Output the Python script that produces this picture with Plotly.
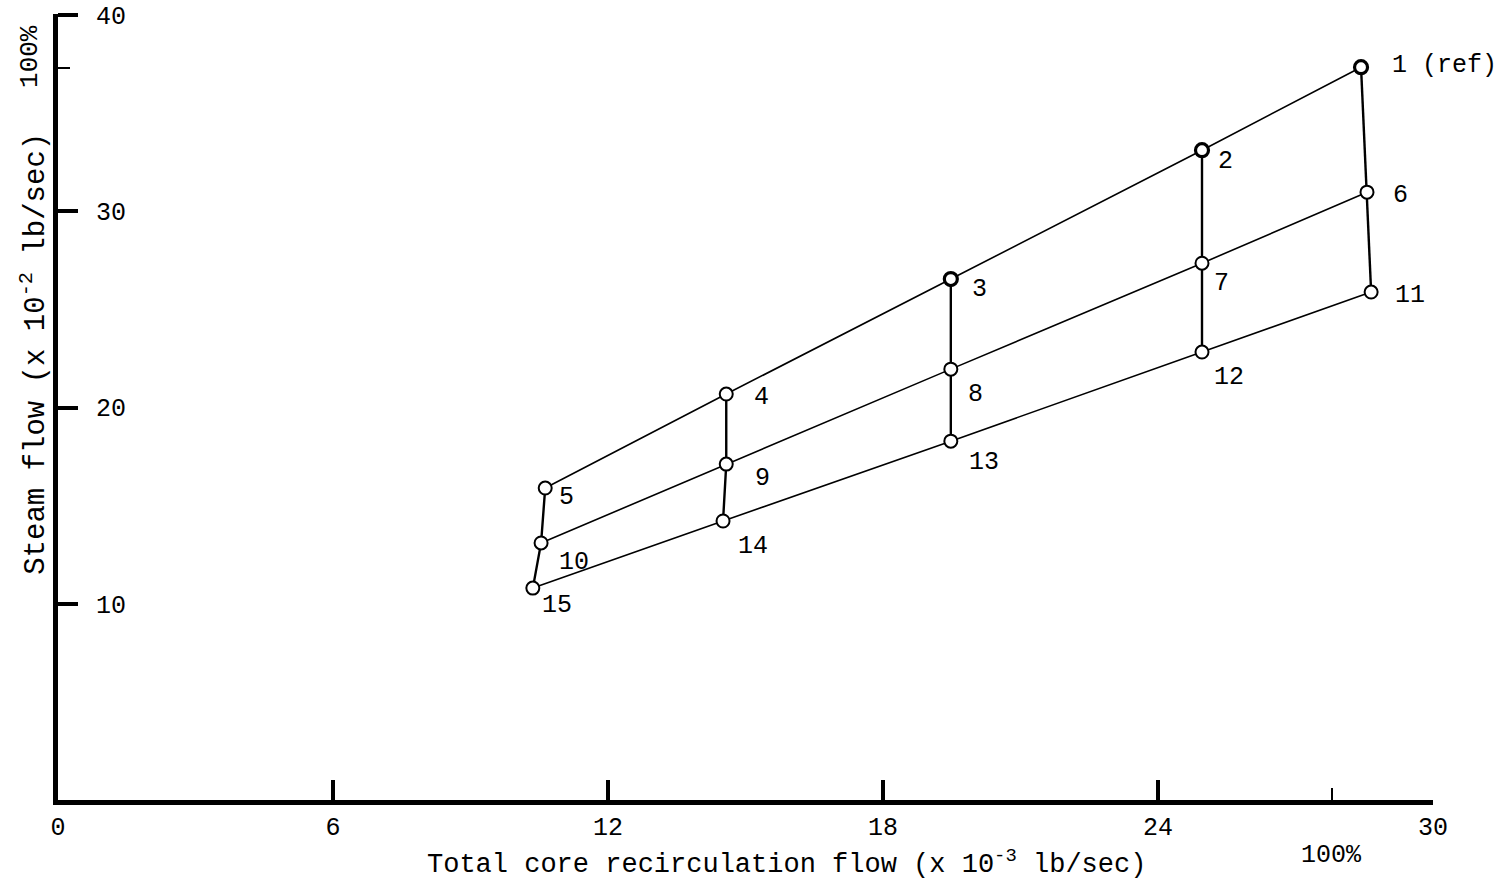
import plotly.graph_objects as go

# ---- data ----
point_ids_top = ["1", "2", "3", "4", "5"]
point_ids_mid = ["6", "7", "8", "9", "10"]
point_ids_bot = ["11", "12", "13", "14", "15"]

x_top = [28.43, 24.96, 19.48, 14.58, 10.63]
y_top = [37.35, 33.12, 26.55, 20.69, 15.90]
x_mid = [28.56, 24.96, 19.48, 14.58, 10.54]
y_mid = [30.98, 27.36, 21.96, 17.12, 13.10]
x_bot = [28.65, 24.96, 19.48, 14.51, 10.36]
y_bot = [25.89, 22.83, 18.29, 14.22, 10.80]

x_tickvals = [0, 6, 12, 18, 24, 30]
y_tickvals = [10, 20, 30, 40]
x_full_scale = 27.8   # 100% mark on x axis
y_full_scale = 37.3   # 100% mark on y axis

x_title = "Total core recirculation flow (x 10<sup>-3</sup> lb/sec)"
y_title = "Steam flow (x 10<sup>-2</sup> lb/sec)"

FONT = "Liberation Mono, Courier New, monospace"

fig = go.Figure()

# horizontal connecting lines
for xs, ys in [(x_top, y_top), (x_mid, y_mid), (x_bot, y_bot)]:
    fig.add_trace(go.Scatter(x=xs, y=ys, mode="lines",
                             line=dict(color="black", width=1.6),
                             hoverinfo="skip", showlegend=False))
# vertical connecting lines
for i in range(len(x_top)):
    fig.add_trace(go.Scatter(x=[x_top[i], x_mid[i], x_bot[i]],
                             y=[y_top[i], y_mid[i], y_bot[i]], mode="lines",
                             line=dict(color="black", width=2.4),
                             hoverinfo="skip", showlegend=False))

# markers
all_x = x_top + x_mid + x_bot
all_y = y_top + y_mid + y_bot
all_ids = point_ids_top + point_ids_mid + point_ids_bot
outline = [3.2 if pid in ("1", "2", "3") else 2 for pid in all_ids]
fig.add_trace(go.Scatter(x=all_x, y=all_y, mode="markers",
                         marker=dict(symbol="circle", size=13, color="white",
                                     line=dict(color="black", width=outline)),
                         text=all_ids, hoverinfo="text", showlegend=False))

# point labels (pixel offsets from marker: dx right, dy down)
label_offsets = {
    "1": (29, -2), "2": (14, 11), "3": (19, 10), "4": (26, 3), "5": (12, 9),
    "6": (24, 3), "7": (10, 20), "8": (15, 25), "9": (27, 14), "10": (16, 20),
    "11": (22, 3), "12": (10, 25), "13": (16, 21), "14": (13, 25), "15": (7, 17),
}
for pid, px, py in zip(all_ids, all_x, all_y):
    dx, dy = label_offsets[pid]
    txt = pid + " (ref)" if pid == "1" else pid
    fig.add_annotation(x=px, y=py, xref="x", yref="y", text=txt,
                       showarrow=False, xanchor="left", yanchor="middle",
                       xshift=dx, yshift=-dy,
                       font=dict(family=FONT, size=25, color="black"))

# axis titles and 100% marks
fig.add_annotation(x=0.53, y=-0.079, xref="paper", yref="paper", text=x_title,
                   showarrow=False, xanchor="center", yanchor="middle",
                   font=dict(family=FONT, size=27, color="black"))
fig.add_annotation(x=0.926, y=-0.07, xref="paper", yref="paper", text="100%",
                   showarrow=False, xanchor="center", yanchor="middle",
                   font=dict(family=FONT, size=25, color="black"))
fig.add_annotation(x=-0.018, y=0.568, xref="paper", yref="paper", text=y_title,
                   showarrow=False, xanchor="center", yanchor="middle", textangle=-90,
                   font=dict(family=FONT, size=29, color="black"))
fig.add_annotation(x=-0.02, y=0.946, xref="paper", yref="paper", text="100%",
                   showarrow=False, xanchor="center", yanchor="middle", textangle=-90,
                   font=dict(family=FONT, size=26, color="black"))

fig.update_layout(
    width=1512, height=887,
    margin=dict(l=58, r=79, t=14, b=87),
    paper_bgcolor="white", plot_bgcolor="white",
    font=dict(family=FONT, size=24, color="black"),
    showlegend=False,
    xaxis=dict(range=[0, 30], tickvals=x_tickvals, ticks="inside", ticklen=20,
               tickwidth=4, tickcolor="black", showline=True, linewidth=5,
               linecolor="black", showgrid=False, zeroline=False,
               ticklabeloverflow="allow", automargin=False,
               tickfont=dict(family=FONT, size=25, color="black"),
               minor=dict(tickvals=[x_full_scale], ticks="inside", ticklen=12,
                          tickwidth=2, tickcolor="black", showgrid=False)),
    yaxis=dict(range=[0, 40.06], tickvals=y_tickvals, ticks="inside", ticklen=20,
               tickwidth=4, tickcolor="black", showline=True, linewidth=5,
               linecolor="black", showgrid=False, zeroline=False,
               ticklabelposition="inside", ticklabelstandoff=20,
               ticklabeloverflow="allow", automargin=False,
               tickfont=dict(family=FONT, size=25, color="black"),
               minor=dict(tickvals=[y_full_scale], ticks="inside", ticklen=12,
                          tickwidth=2, tickcolor="black", showgrid=False)),
)

fig.write_html("out.html")
